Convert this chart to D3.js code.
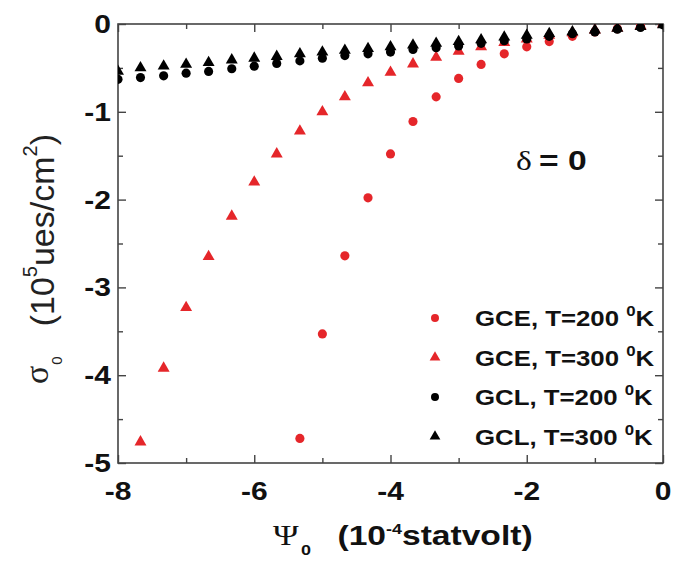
<!DOCTYPE html>
<html>
<head>
<meta charset="utf-8">
<script src="https://cdn.jsdelivr.net/npm/d3@7"></script>
<style>
  body { margin: 0; background: #fff; }
  svg { display: block; }
</style>
</head>
<body>
<div id="chart"></div>
<script>
// potential Psi0 (10^-4 statvolt)
const psi = [-8, -7.67, -7.33, -7, -6.67, -6.33, -6, -5.67, -5.33, -5, -4.67, -4.33,
  -4, -3.67, -3.33, -3, -2.67, -2.33, -2, -1.67, -1.33, -1, -0.67, -0.33, 0];

// sigma0 (10^5 ues/cm^2), null = no point
const gce200 = [null, null, null, null, null, null, null, null, -4.72, -3.53, -2.64, -1.98,
  -1.48, -1.11, -0.83, -0.62, -0.46, -0.34, -0.26, -0.20, -0.14, -0.09, -0.055, -0.025, 0];
const gce300 = [null, -4.76, -3.92, -3.23, -2.65, -2.19, -1.80, -1.48, -1.22, -1.00, -0.83, -0.67,
  -0.55, -0.455, -0.38, -0.31, -0.26, -0.21, -0.17, -0.13, -0.10, -0.07, -0.045, -0.02, 0];
const gcl200 = [-0.63, -0.61, -0.59, -0.56, -0.54, -0.51, -0.48, -0.45, -0.42, -0.39, -0.36, -0.34,
  -0.32, -0.29, -0.27, -0.25, -0.22, -0.19, -0.17, -0.14, -0.11, -0.09, -0.06, -0.04, -0.01];
const gcl300 = [-0.54, -0.50, -0.48, -0.46, -0.44, -0.41, -0.39, -0.37, -0.34, -0.32, -0.30, -0.28,
  -0.26, -0.24, -0.22, -0.20, -0.18, -0.15, -0.13, -0.11, -0.09, -0.07, -0.05, -0.03, -0.01];

const legendLabels = ['GCE, T=200 ', 'GCE, T=300 ', 'GCL, T=200 ', 'GCL, T=300 '];
const xMajor = [-8, -6, -4, -2, 0];
const xMinor = [-7, -5, -3, -1];
const yMajor = [0, -1, -2, -3, -4, -5];
const yMinor = [-0.5, -1.5, -2.5, -3.5, -4.5];

const RED = '#e5262a', BLACK = '#000';
const series = [
  { label: legendLabels[0], values: gce200, color: RED, shape: 'circle' },
  { label: legendLabels[1], values: gce300, color: RED, shape: 'triangle' },
  { label: legendLabels[2], values: gcl200, color: BLACK, shape: 'circle' },
  { label: legendLabels[3], values: gcl300, color: BLACK, shape: 'triangle' }
];

var width = 673, height = 561;
var plot = { left: 118, right: 663, top: 24, bottom: 463 };
var SX = 1.2; // horizontal stretch of the original lettering
var SANS = "'Liberation Sans', Arial, sans-serif";
var SERIF = "'Liberation Serif', 'Times New Roman', serif";

const svg = d3.select('#chart')
  .append('svg')
  .attr('width', width)
  .attr('height', height);

const x = d3.scaleLinear().domain([-8, 0]).range([plot.left, plot.right]);
const y = d3.scaleLinear().domain([-5, 0]).range([plot.bottom, plot.top]);

// ticks (all pointing inward)
function ticks(axis, values, size, transform) {
  const g = svg.append('g')
    .attr('transform', transform)
    .call(axis.tickValues(values).tickSize(-size).tickFormat(''));
  g.select('.domain').remove();
  g.selectAll('line').attr('stroke', '#444').attr('stroke-width', 1.4);
}
ticks(d3.axisBottom(x), xMajor, 8, `translate(0,${plot.bottom})`);
ticks(d3.axisBottom(x), xMinor, 5, `translate(0,${plot.bottom})`);
ticks(d3.axisTop(x), xMajor, 8, `translate(0,${plot.top})`);
ticks(d3.axisTop(x), xMinor, 5, `translate(0,${plot.top})`);
ticks(d3.axisLeft(y), yMajor, 8, `translate(${plot.left},0)`);
ticks(d3.axisLeft(y), yMinor, 5, `translate(${plot.left},0)`);
ticks(d3.axisRight(y), yMajor, 8, `translate(${plot.right},0)`);
ticks(d3.axisRight(y), yMinor, 5, `translate(${plot.right},0)`);

svg.append('rect')
  .attr('x', plot.left).attr('y', plot.top)
  .attr('width', plot.right - plot.left).attr('height', plot.bottom - plot.top)
  .attr('fill', 'none').attr('stroke', '#444').attr('stroke-width', 1.6);

// tick labels
function stretched(px, py, anchor) {
  return svg.append('text')
    .attr('transform', `translate(${px},${py}) scale(${SX},1)`)
    .attr('text-anchor', anchor)
    .attr('font-family', SANS)
    .attr('fill', '#111');
}
xMajor.forEach(v => {
  stretched(x(v), 500, 'middle').attr('font-size', 25).attr('font-weight', 'bold').text(String(v));
});
yMajor.forEach(v => {
  stretched(111, y(v) + 9, 'end').attr('font-size', 25).attr('font-weight', 'bold').text(String(v));
});

// points
svg.append('clipPath').attr('id', 'clip')
  .append('rect')
  .attr('x', plot.left).attr('y', plot.top)
  .attr('width', plot.right - plot.left).attr('height', plot.bottom - plot.top);

const symCircle = d3.symbol(d3.symbolCircle, 66);
const symTriangle = d3.symbol(d3.symbolTriangle, 62);

const pts = svg.append('g').attr('clip-path', 'url(#clip)');
series.forEach(s => {
  const data = psi.map((p, i) => ({ p, v: s.values[i] })).filter(d => d.v !== null);
  pts.selectAll(null)
    .data(data)
    .enter()
    .append('path')
    .attr('d', s.shape === 'circle' ? symCircle : symTriangle)
    .attr('transform', d => `translate(${x(d.p)},${y(d.v)})`)
    .attr('fill', s.color);
});

// legend
const legend = svg.append('g');
series.forEach((s, i) => {
  const ly = 318 + i * 39.5;
  legend.append('path')
    .attr('d', d3.symbol(s.shape === 'circle' ? d3.symbolCircle : d3.symbolTriangle, 50))
    .attr('transform', `translate(435,${ly})`)
    .attr('fill', s.color);
  const t = stretched(475, ly + 8, 'start').attr('font-size', 21.5).attr('font-weight', 'bold');
  t.append('tspan').text(s.label);
  t.append('tspan').attr('font-size', 14).attr('dy', -10).text('0');
  t.append('tspan').attr('dy', 10).text('K');
});

// delta = 0
const dl = stretched(516, 170, 'start').attr('font-size', 28);
dl.append('tspan').attr('font-family', SERIF).text('δ');
dl.append('tspan').attr('font-weight', 'bold').attr('dx', 6).text('= 0');

// x title
const xt = stretched(273, 545, 'start').attr('font-size', 28).attr('font-weight', 'bold');
xt.append('tspan').attr('font-family', SERIF).attr('font-weight', 'normal').attr('font-size', 29).text('Ψ');
xt.append('tspan').attr('font-size', 15).attr('dx', 2).attr('dy', 10).text('0');
xt.append('tspan').attr('dx', 22).attr('dy', -10).text('(10');
xt.append('tspan').attr('font-size', 15).attr('dy', -11).text('-4');
xt.append('tspan').attr('dy', 11).text('statvolt)');

// y title
const yt = svg.append('text')
  .attr('transform', 'translate(54,384) rotate(-90)')
  .attr('font-family', SANS)
  .attr('font-size', 34)
  .attr('fill', '#222');
yt.append('tspan').attr('font-family', SERIF).attr('dy', -6).text('σ');
yt.append('tspan').attr('font-size', 15).attr('dx', 1).attr('dy', 14).text('0');
yt.append('tspan').attr('dx', 30).attr('dy', -8).text('(10');
yt.append('tspan').attr('font-size', 20).attr('dy', -17).text('5');
yt.append('tspan').attr('dy', 17).text('ues/cm');
yt.append('tspan').attr('font-size', 20).attr('dy', -17).text('2');
yt.append('tspan').attr('dy', 17).text(')');
</script>
</body>
</html>
